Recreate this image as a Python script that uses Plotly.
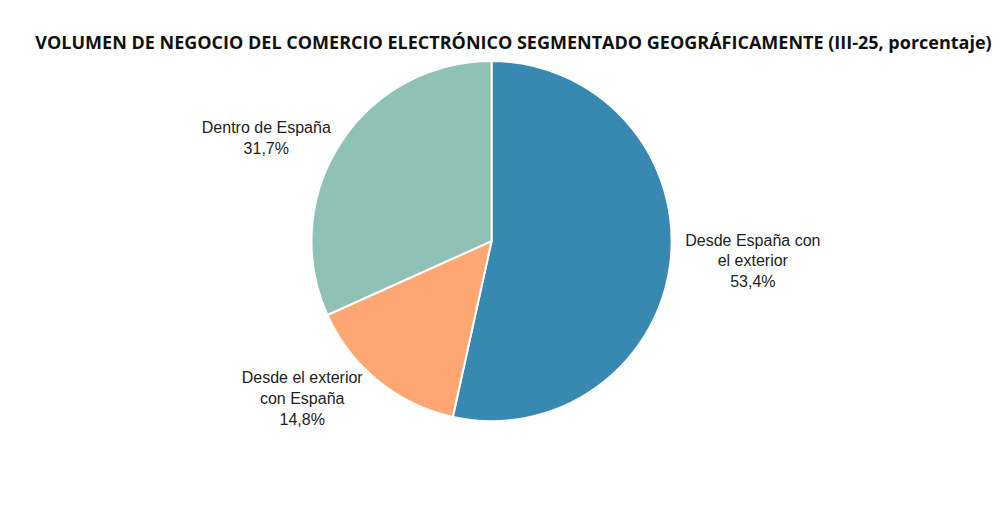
import plotly.graph_objects as go

labels = ["Desde España con<br>el exterior", "Desde el exterior<br>con España", "Dentro de España"]
values = [53.4, 14.8, 31.7]
texts = ["53,4%", "14,8%", "31,7%"]
colors = ["#3889b1", "#fea773", "#8fc2b5"]

fig = go.Figure(go.Pie(
    labels=labels, values=values, sort=False, direction="clockwise", rotation=0,
    text=[f"{l}<br>{t}" for l, t in zip(labels, texts)], textinfo="text",
    textposition="outside", marker=dict(colors=colors, line=dict(color="white", width=2)),
    textfont=dict(family="Liberation Sans", size=16, color="#222"),
    domain=dict(x=[0.088, 0.848], y=[0.213, 0.899]), showlegend=False, hoverinfo="label+percent",
))
fig.update_layout(
    width=1007, height=525, margin=dict(l=0, r=0, t=0, b=0),
    paper_bgcolor="white",
    title=dict(text="<b>VOLUMEN DE NEGOCIO DEL COMERCIO ELECTRÓNICO SEGMENTADO GEOGRÁFICAMENTE (III-25, porcentaje)</b>",
               x=0.502, xanchor="center", y=0.933, yanchor="middle",
               font=dict(family="Open Sans", size=18, color="#111")),
)
fig.write_html("out.html")
